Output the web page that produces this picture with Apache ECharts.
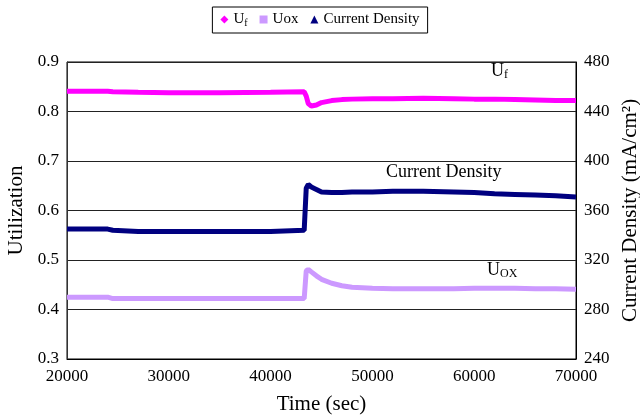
<!DOCTYPE html>
<html>
<head>
  <meta charset="UTF-8">
  <title>utilization</title>
  <script src="https://cdn.jsdelivr.net/npm/echarts@6/dist/echarts.min.js"></script>
  <style>
    * { padding: 0; margin: 0; }
    #box { width: 640px; height: 416px; background: #fff; }
  </style>
</head>
<body>
  <div id="box"></div>
  <script>
    // time points (sec)
    var times = [20000, 22000, 24000, 24500, 27000, 30000, 35000, 40000, 43300, 43500, 43700, 44000, 44500,
      45000, 46000, 47000, 48000, 50000, 52000, 55000, 58000, 60000, 62000, 64000, 66000, 68000, 70000]
    // fuel utilization
    var uf = [0.841, 0.841, 0.841, 0.840, 0.839, 0.838, 0.838, 0.839, 0.840, 0.831, 0.816, 0.811, 0.813,
      0.818, 0.822, 0.824, 0.825, 0.826, 0.826, 0.827, 0.826, 0.825, 0.825, 0.824, 0.823, 0.822, 0.822]
    // oxidant utilization
    var uox = [0.425, 0.425, 0.425, 0.422, 0.422, 0.422, 0.422, 0.422, 0.422, 0.478, 0.481, 0.476, 0.468,
      0.461, 0.453, 0.448, 0.445, 0.443, 0.442, 0.442, 0.442, 0.443, 0.443, 0.443, 0.442, 0.442, 0.441]
    // current density mA/cm2
    var cd = [345, 345, 345, 344, 343, 343, 343, 343, 344, 378, 381, 379, 377,
      375, 374.5, 374.5, 375, 375, 375.5, 375.5, 375, 374.5, 373.5, 373, 372.5, 372, 371]

    function pairs(vals) {
      var out = []
      for (let i = 0; i < times.length; i++) {
        out.push([times[i], vals[i]])
      }
      return out
    }

    var font = 'Liberation Serif'
    var mCharts = echarts.init(document.getElementById('box'))
    var option = {
      backgroundColor: '#fff',
      textStyle: { fontFamily: font, color: '#000' },
      legend: {
        top: 7,
        left: 'center',
        borderColor: '#000',
        borderWidth: 1,
        padding: [5, 8],
        itemGap: 12,
        itemWidth: 8,
        itemHeight: 8,
        textStyle: {
          fontFamily: font, fontSize: 15, color: '#000',
          rich: { s: { fontFamily: font, fontSize: 10, padding: [7, 0, 0, 0] } }
        },
        formatter: function (name) {
          return name === 'Uf' ? 'U{s|f}' : name
        },
        data: [
          { name: 'Uf', icon: 'diamond' },
          { name: 'Uox', icon: 'rect' },
          { name: 'Current Density', icon: 'triangle' }
        ]
      },
      grid: {
        left: 67, right: 64, top: 62, bottom: 57,
        containLabel: false, outerBoundsMode: 'none',
        show: true, borderColor: '#000', borderWidth: 1
      },
      xAxis: {
        type: 'value',
        min: 20000,
        max: 70000,
        interval: 10000,
        name: 'Time (sec)',
        nameLocation: 'middle',
        nameGap: 35,
        nameTextStyle: { fontFamily: font, fontSize: 21, color: '#000' },
        axisLine: { lineStyle: { color: '#000' } },
        axisTick: { show: false },
        splitLine: { show: false },
        axisLabel: {
          fontFamily: font, fontSize: 17, color: '#000', margin: 9,
          formatter: function (v) { return String(v) }
        }
      },
      yAxis: [{
        type: 'value',
        min: 0.3,
        max: 0.9,
        interval: 0.1,
        name: 'Utilization',
        nameLocation: 'middle',
        nameGap: 38,
        nameTextStyle: { fontFamily: font, fontSize: 21, color: '#000' },
        axisLine: { show: true, lineStyle: { color: '#333' } },
        axisTick: { show: false },
        splitLine: { lineStyle: { color: '#222', width: 1 } },
        axisLabel: {
          fontFamily: font, fontSize: 17, color: '#000', margin: 8,
          formatter: function (v) { return v.toFixed(1) }
        }
      }, {
        type: 'value',
        min: 240,
        max: 480,
        interval: 40,
        name: 'Current Density (mA/cm²)',
        nameLocation: 'middle',
        nameGap: 40,
        nameRotate: 90,
        nameTextStyle: { fontFamily: font, fontSize: 21, color: '#000' },
        axisLine: { show: true, lineStyle: { color: '#000' } },
        axisTick: { show: false },
        splitLine: { show: false },
        axisLabel: { fontFamily: font, fontSize: 17, color: '#000', margin: 8 }
      }],
      graphic: [
        {
          type: 'text', left: 491, top: 62,
          style: {
            text: 'U{s|f}', font: '18px "Liberation Serif"', fill: '#000',
            rich: { s: { fontFamily: font, fontSize: 12, padding: [8, 0, 0, 0] } }
          }
        },
        {
          type: 'text', left: 386, top: 163,
          style: { text: 'Current Density', font: '18px "Liberation Serif"', fill: '#000' }
        },
        {
          type: 'text', left: 487, top: 261,
          style: {
            text: 'U{s|OX}', font: '18px "Liberation Serif"', fill: '#000',
            rich: { s: { fontFamily: font, fontSize: 12, padding: [8, 0, 0, 0] } }
          }
        }
      ],
      series: [{
        name: 'Uf',
        type: 'line',
        yAxisIndex: 0,
        symbol: 'diamond',
        showSymbol: false,
        color: '#ff00ff',
        lineStyle: { width: 5, color: '#ff00ff' },
        data: pairs(uf)
      }, {
        name: 'Uox',
        type: 'line',
        yAxisIndex: 0,
        symbol: 'rect',
        showSymbol: false,
        color: '#cc99ff',
        lineStyle: { width: 5, color: '#cc99ff' },
        data: pairs(uox)
      }, {
        name: 'Current Density',
        type: 'line',
        yAxisIndex: 1,
        symbol: 'triangle',
        showSymbol: false,
        color: '#000080',
        lineStyle: { width: 5, color: '#000080' },
        data: pairs(cd)
      }]
    }
    mCharts.setOption(option)
  </script>
</body>
</html>
